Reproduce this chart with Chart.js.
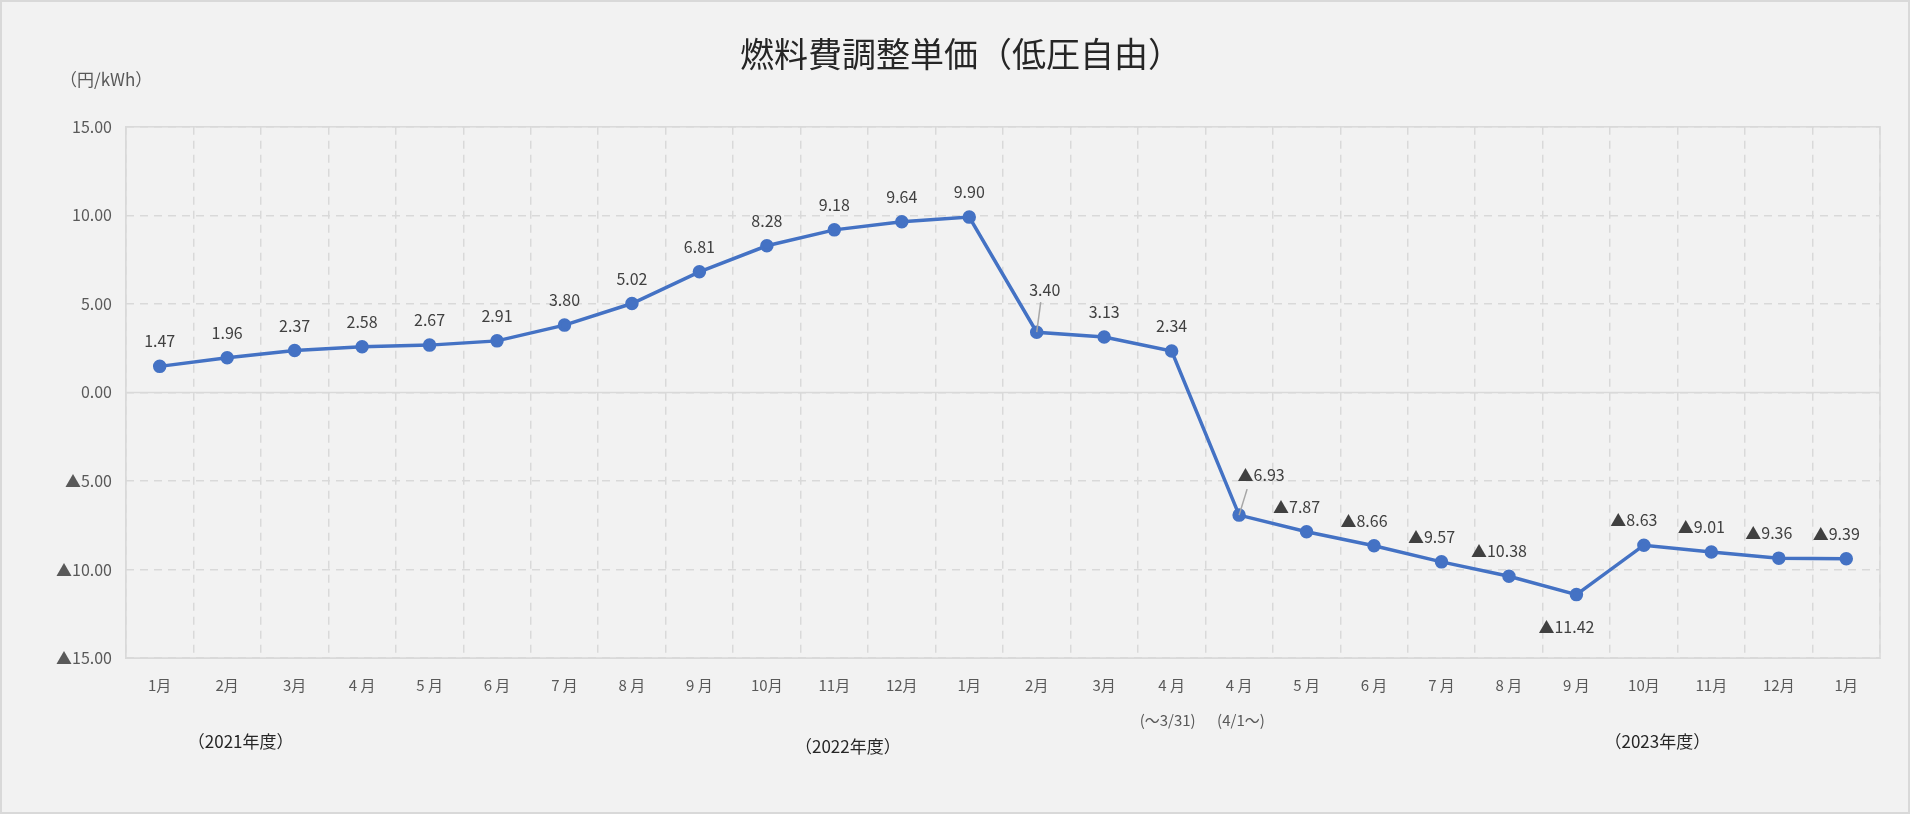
<!DOCTYPE html>
<html>
<head>
<meta charset="utf-8">
<script src="https://cdn.jsdelivr.net/npm/chart.js@4"></script>
<style>
  html, body { margin: 0; padding: 0; background: #fff; }
  #wrap { position: absolute; left: 0; top: 0; width: 1906px; height: 810px; background: #f2f2f2; border: 2px solid #d9d9d9; }
</style>
</head>
<body>
<div id="wrap"><canvas id="chart" width="1906" height="810"></canvas></div>
<script>
// data
var months = ["1月", "2月", "3月", "4 月", "5 月", "6 月", "7 月", "8 月", "9 月", "10月", "11月", "12月", "1月", "2月", "3月", "4 月", "4 月", "5 月", "6 月", "7 月", "8 月", "9 月", "10月", "11月", "12月", "1月"];
var prices = [1.47, 1.96, 2.37, 2.58, 2.67, 2.91, 3.80, 5.02, 6.81, 8.28, 9.18, 9.64, 9.90, 3.40, 3.13, 2.34, -6.93, -7.87, -8.66, -9.57, -10.38, -11.42, -8.63, -9.01, -9.36, -9.39];
var subLabels = { 15: "(〜3/31)", 16: "(4/1〜)" };
var fiscalYears = [{ text: "（2021年度）", at: 1.2 }, { text: "（2022年度）", at: 10.2 }, { text: "（2023年度）", at: 22.2 }];
var yTicks = [15, 10, 5, 0, -5, -10, -15];

var FONT = '"Noto Sans CJK JP", "Noto Sans", sans-serif';

function fmt(v) {
    return (v < 0 ? "▲" : "") + Math.abs(v).toFixed(2);
}

function leader(ctx, x1, y1, x2, y2) {
    ctx.save();
    ctx.strokeStyle = "#a6a6a6";
    ctx.lineWidth = 1.5;
    ctx.beginPath();
    ctx.moveTo(x1, y1);
    ctx.lineTo(x2, y2);
    ctx.stroke();
    ctx.restore();
}

// value labels, fiscal year labels, sub labels
var extras = {
    id: "extras",
    afterDatasetsDraw: function (chart) {
        var ctx = chart.ctx;
        var meta = chart.getDatasetMeta(0);
        var x = chart.scales.x;
        ctx.save();
        ctx.font = "16px " + FONT;
        ctx.fillStyle = "#404040";
        ctx.textAlign = "center";
        ctx.textBaseline = "middle";
        meta.data.forEach(function (pt, i) {
            var v = prices[i];
            var tx = pt.x, ty = pt.y - 25;
            if (v < 0) { tx = pt.x - 10; }
            if (i === 13) { tx = pt.x + 8; ty = pt.y - 42; leader(ctx, pt.x, pt.y, tx - 4, ty + 12); }
            if (i === 16) { tx = pt.x + 22; ty = pt.y - 40; leader(ctx, pt.x, pt.y, tx - 14, ty + 14); }
            if (i === 21) { tx = pt.x - 10; ty = pt.y + 32; }
            ctx.fillText(fmt(v), tx, ty);
        });
        ctx.font = "15px " + FONT;
        ctx.fillStyle = "#595959";
        Object.keys(subLabels).forEach(function (k) {
            var px = x.getPixelForValue(+k);
            ctx.textAlign = +k === 15 ? "right" : "left";
            ctx.fillText(subLabels[k], px + (+k === 15 ? 24 : -22), chart.chartArea.bottom + 62);
        });
        ctx.textAlign = "center";
        ctx.font = "17px " + FONT;
        ctx.fillStyle = "#262626";
        fiscalYears.forEach(function (f) {
            ctx.fillText(f.text, x.getPixelForValue(f.at), chart.chartArea.bottom + 84 + (f.at === 10.2 ? 5 : 0));
        });
        ctx.fillStyle = "#595959";
        ctx.textAlign = "left";
        ctx.fillText("（円/kWh）", 58, 78);
        ctx.restore();
    }
};

new Chart(document.getElementById("chart"), {
    type: "line",
    data: {
        labels: months,
        datasets: [{
            data: prices,
            borderColor: "#4472c4",
            backgroundColor: "#4472c4",
            borderWidth: 3.5,
            pointRadius: 5,
            tension: 0
        }]
    },
    options: {
        responsive: false,
        animation: false,
        devicePixelRatio: 1,
        layout: { padding: { left: 40, right: 28, top: 10, bottom: 100 } },
        plugins: {
            legend: { display: false },
            tooltip: { enabled: false },
            title: {
                display: true,
                text: "燃料費調整単価（低圧自由）",
                color: "#262626",
                font: { family: FONT, size: 34, weight: "normal" },
                padding: { top: 22, bottom: 52 }
            }
        },
        scales: {
            x: {
                offset: true,
                grid: { offset: true, color: "#d9d9d9", lineWidth: 1.5, tickLength: 0 },
                border: { display: true, color: "#d9d9d9", dash: [8, 6] },
                ticks: { color: "#595959", font: { family: FONT, size: 15 }, padding: 18, maxRotation: 0, autoSkip: false }
            },
            y: {
                min: -15, max: 15,
                afterBuildTicks: function (s) { s.ticks = yTicks.map(function (v) { return { value: v }; }); },
                grid: { color: "#d9d9d9", lineWidth: 1.5, tickLength: 0 },
                border: { display: true, color: "#d9d9d9", dash: [8, 6] },
                ticks: {
                    color: "#595959",
                    font: { family: FONT, size: 16 },
                    padding: 14,
                    callback: function (v) { return fmt(v); }
                }
            }
        }
    },
    plugins: [extras, {
        id: "frame",
        beforeDatasetsDraw: function (chart) {
            var a = chart.chartArea, ctx = chart.ctx, y0 = chart.scales.y.getPixelForValue(0);
            ctx.save();
            ctx.strokeStyle = "#d9d9d9";
            ctx.lineWidth = 1.5;
            ctx.strokeRect(a.left, a.top, a.right - a.left, a.bottom - a.top);
            ctx.beginPath(); ctx.moveTo(a.left, y0); ctx.lineTo(a.right, y0); ctx.stroke();
            ctx.restore();
        }
    }]
});
</script>
</body>
</html>
